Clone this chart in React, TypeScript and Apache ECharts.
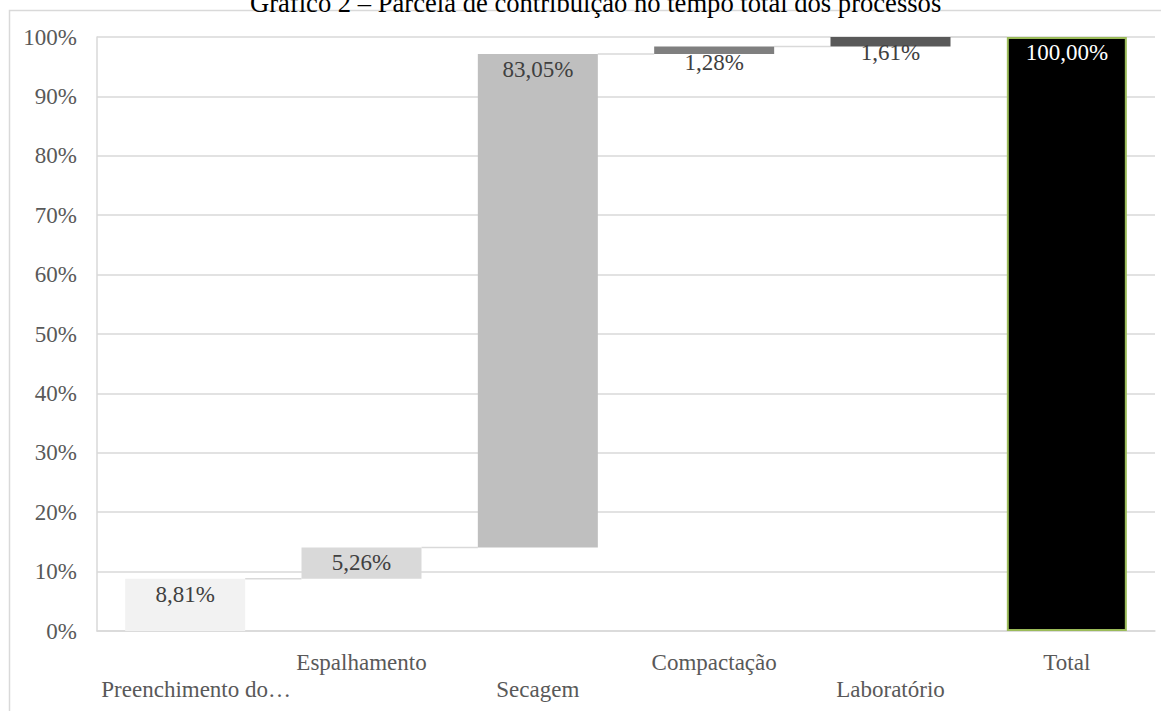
import React, { useEffect, useRef } from "react";
import * as echarts from "echarts";

const title = "Gráfico 2 – Parcela de contribuição no tempo total dos processos";
const categories = ["Preenchimento do…", "Espalhamento", "Secagem", "Compactação", "Laboratório", "Total"];
const contributions = [8.81, 5.26, 83.05, 1.28, 1.61, 100.0];
const isTotal = [false, false, false, false, false, true];
const barColors = ["#f2f2f2", "#d9d9d9", "#bfbfbf", "#7f7f7f", "#595959", "#000000"];
const yTicks = [0, 10, 20, 30, 40, 50, 60, 70, 80, 90, 100];

const FONT = '"Liberation Serif", "Times New Roman", serif';
const FS = 23;

export default function App() {
  const ref = useRef<HTMLDivElement>(null);

  useEffect(() => {
    if (!ref.current) return;
    const chart = echarts.init(ref.current, null, { renderer: "svg" });

    const bases: number[] = [];
    const tops: number[] = [];
    let running = 0;
    contributions.forEach((v, i) => {
      if (isTotal[i]) {
        bases.push(0);
        tops.push(v);
      } else {
        bases.push(running);
        running += v;
        tops.push(running);
      }
    });

    const fmt = (v: number) => v.toFixed(2).replace(".", ",") + "%";
    const halfBar = 60;

    const connectorData = tops.slice(0, tops.length - 1).map((t, i) => [i, t]);

    chart.setOption({
      animation: false,
      title: {
        text: title,
        left: 245,
        top: -16,
        textStyle: { fontFamily: FONT, fontSize: 26.6, fontWeight: "normal", color: "#000" },
      },
      graphic: [
        {
          type: "rect",
          shape: { x: 9.5, y: 10.5, width: 1400, height: 900 },
          style: { fill: "none", stroke: "#d9d9d9", lineWidth: 1.5 },
          silent: true,
          z: -10,
        },
      ],
      grid: { left: 97, right: 6, top: 37, bottom: 80, containLabel: false },
      xAxis: {
        type: "category",
        data: categories,
        axisTick: { show: false },
        axisLine: { show: true, lineStyle: { color: "#d9d9d9", width: 1.5 } },
        axisLabel: {
          interval: 0,
          margin: 20,
          fontFamily: FONT,
          fontSize: FS,
          color: "#595959",
          formatter: (v: string, i: number) =>
            i === 0 ? `{c|${v}}` : i % 2 === 1 ? `{a|${v}}` : `{b|${v}}`,
          rich: {
            a: { fontFamily: FONT, fontSize: FS, color: "#595959" },
            b: { fontFamily: FONT, fontSize: FS, color: "#595959", padding: [27, 0, 0, 0] },
            c: { fontFamily: FONT, fontSize: FS, color: "#595959", padding: [27, 0, 0, 22] },
          },
        },
      },
      yAxis: {
        type: "value",
        min: yTicks[0],
        max: yTicks[yTicks.length - 1],
        interval: 10,
        axisLine: { show: true, lineStyle: { color: "#d9d9d9", width: 1.5 } },
        axisTick: { show: false },
        splitLine: { lineStyle: { color: "#d9d9d9", width: 1.5 } },
        axisLabel: {
          margin: 20,
          fontFamily: FONT,
          fontSize: FS,
          color: "#595959",
          formatter: "{value}%",
        },
      },
      series: [
        {
          type: "bar",
          stack: "w",
          barWidth: 120,
          silent: true,
          itemStyle: { color: "transparent" },
          data: bases,
        },
        {
          type: "bar",
          stack: "w",
          barWidth: 120,
          data: contributions.map((v, i) => ({
            value: v,
            itemStyle: isTotal[i]
              ? { color: barColors[i], borderColor: "#9bbb59", borderWidth: 2 }
              : { color: barColors[i] },
            label: { color: isTotal[i] ? "#ffffff" : "#404040" },
          })),
          label: {
            show: true,
            position: "insideTop",
            distance: 4,
            fontFamily: FONT,
            fontSize: FS,
            formatter: (p: any) => fmt(p.value),
          },
        },
        {
          type: "custom",
          silent: true,
          z: 1,
          data: connectorData,
          renderItem: (params: any, api: any) => {
            const idx = api.value(0);
            const val = api.value(1);
            const p0 = api.coord([idx, val]);
            const p1 = api.coord([idx + 1, val]);
            return {
              type: "line",
              shape: { x1: p0[0] + halfBar, y1: p0[1], x2: p1[0] - halfBar, y2: p1[1] },
              style: { stroke: "#d9d9d9", lineWidth: 1.5 },
            };
          },
        },
      ],
    });

    return () => chart.dispose();
  }, []);

  return (
    <div style={{ position: "fixed", left: 0, top: 0, width: 1161, height: 711, background: "#fff" }}>
      <div ref={ref} style={{ width: 1161, height: 711 }} />
    </div>
  );
}
